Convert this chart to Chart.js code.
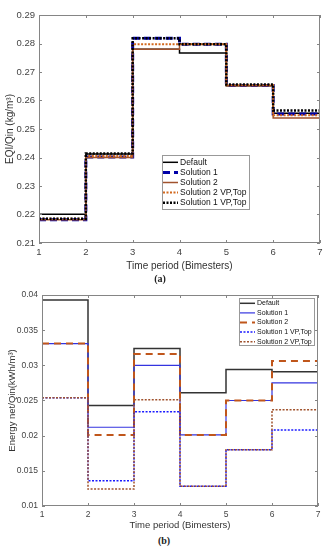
<!DOCTYPE html>
<html>
<head>
<meta charset="utf-8">
<script src="https://cdn.jsdelivr.net/npm/chart.js@4"></script>
<style>
  body { margin: 0; background: #fff; }
  #wrap { position: relative; width: 328px; height: 550px; overflow: hidden; }
  canvas { position: absolute; left: 0; }
  .cap { position: absolute; width: 40px; text-align: center; font: bold 10px "Liberation Serif", "Times New Roman", serif; color: #222; }
</style>
</head>
<body>
<div id="wrap">
  <canvas id="chartA" width="328" height="272" style="top:0"></canvas>
  <canvas id="chartB" width="328" height="251" style="top:280px"></canvas>
  <div class="cap" style="left:140px; top:273px">(a)</div>
  <div class="cap" style="left:144px; top:535px">(b)</div>
</div>
<script>
// time period boundaries (bimesters)
const periods = [1, 2, 3, 4, 5, 6, 7];

// (a) EQI/Qin (kg/m3), one value per bimester
const eqiLabels = ['Default', 'Solution 1', 'Solution 2', 'Solution 2 VP,Top', 'Solution 1 VP,Top'];
const eqiDefault = [0.2201, 0.2412, 0.2780, 0.2767, 0.2652, 0.2555];
const eqiSol1 = [0.2182, 0.2402, 0.2818, 0.2797, 0.2653, 0.2553];
const eqiSol2 = [0.2182, 0.2400, 0.2780, 0.2797, 0.2652, 0.2539];
const eqiSol2VP = [0.2185, 0.2405, 0.2797, 0.2797, 0.2654, 0.2548];
const eqiSol1VP = [0.2185, 0.2414, 0.2818, 0.2797, 0.2656, 0.2565];

// (b) Energy net/Qin (kWh/m3)
const enLabels = ['Default', 'Solution 1', 'Solution 2', 'Solution 1 VP,Top', 'Solution 2 VP,Top'];
const enDefault = [0.0393, 0.0243, 0.0324, 0.0261, 0.0294, 0.0291];
const enSol1 = [0.0331, 0.0212, 0.0300, 0.0201, 0.0250, 0.0275];
const enSol2 = [0.0331, 0.0201, 0.0316, 0.0201, 0.0250, 0.0306];
const enSol1VP = [0.0254, 0.0136, 0.0234, 0.0128, 0.0180, 0.0208];
const enSol2VP = [0.0254, 0.0124, 0.0251, 0.0128, 0.0180, 0.0237];

const FONT = '"Liberation Sans", Arial, sans-serif';

// step data: each value holds from its period start to the next one
function steps(vals) {
  return periods.map((p, i) => ({ x: p, y: vals[Math.min(i, vals.length - 1)] }));
}

// matlab style box with inward ticks
const frame = {
  id: 'frame',
  afterDatasetsDraw(chart) {
    const { ctx, chartArea: a, scales: { x, y } } = chart;
    ctx.save();
    ctx.strokeStyle = '#858585';
    ctx.lineWidth = 1;
    ctx.setLineDash([]);
    ctx.strokeRect(Math.round(a.left) + 0.5, Math.round(a.top) + 0.5, Math.round(a.width) - 1, Math.round(a.height) - 1);
    ctx.beginPath();
    x.ticks.forEach(t => {
      const px = Math.round(x.getPixelForValue(t.value)) + 0.5;
      ctx.moveTo(px, a.bottom); ctx.lineTo(px, a.bottom - 3);
      ctx.moveTo(px, a.top); ctx.lineTo(px, a.top + 3);
    });
    y.ticks.forEach(t => {
      const py = Math.round(y.getPixelForValue(t.value)) + 0.5;
      ctx.moveTo(a.left, py); ctx.lineTo(a.left + 3, py);
      ctx.moveTo(a.right, py); ctx.lineTo(a.right - 3, py);
    });
    ctx.stroke();
    ctx.restore();
  }
};

// legend box drawn inside the plot
const boxLegend = {
  id: 'boxLegend',
  afterDraw(chart, args, o) {
    const ctx = chart.ctx;
    ctx.save();
    ctx.fillStyle = '#fff';
    ctx.fillRect(o.left, o.top, o.width, o.height);
    ctx.strokeStyle = '#999';
    ctx.lineWidth = 1;
    ctx.strokeRect(o.left + 0.5, o.top + 0.5, o.width, o.height);
    ctx.font = o.font;
    ctx.textBaseline = 'middle';
    chart.data.datasets.forEach((ds, i) => {
      const yy = o.rowTop + i * o.rowGap;
      ctx.beginPath();
      ctx.setLineDash(ds.borderDash || []);
      ctx.lineWidth = ds.borderWidth;
      ctx.strokeStyle = ds.borderColor;
      ctx.moveTo(o.left + 1, yy);
      ctx.lineTo(o.left + 1 + o.sample, yy);
      ctx.stroke();
      ctx.setLineDash([]);
      ctx.fillStyle = '#111';
      ctx.fillText(ds.label, o.left + o.sample + 3, yy);
    });
    ctx.restore();
  }
};

function makeChart(id, sets, cfg) {
  new Chart(document.getElementById(id), {
    type: 'line',
    data: {
      datasets: sets.map((s, i) => ({
        label: s.label,
        data: steps(s.data),
        borderColor: s.color,
        borderWidth: s.width,
        borderDash: s.dash,
        stepped: true,
        pointRadius: 0,
        fill: false,
        order: sets.length - i
      }))
    },
    options: {
      responsive: false,
      animation: false,
      layout: { padding: cfg.padding },
      plugins: {
        legend: { display: false },
        tooltip: { enabled: false },
        boxLegend: cfg.legend
      },
      scales: {
        x: {
          type: 'linear', min: 1, max: 7,
          afterFit: s => { s.height = cfg.xHeight; },
          grid: { display: false, drawTicks: false },
          border: { display: false },
          ticks: { stepSize: 1, padding: 4, color: '#444', font: { family: FONT, size: cfg.tickSize } },
          title: { display: true, text: 'Time period (Bimesters)', padding: 0, color: '#333', font: { family: FONT, size: cfg.titleSize } }
        },
        y: {
          min: cfg.yMin, max: cfg.yMax,
          afterFit: s => { s.width = cfg.yWidth; },
          grid: { display: false, drawTicks: false },
          border: { display: false },
          ticks: { stepSize: cfg.yStep, padding: 4, color: '#444', font: { family: FONT, size: cfg.tickSize },
            callback: v => String(+v.toFixed(4)) },
          title: { display: true, text: cfg.yTitle, padding: { top: cfg.yTitlePad, bottom: 0 }, color: '#333', font: { family: FONT, size: cfg.titleSize } }
        }
      }
    },
    plugins: [frame, boxLegend]
  });
}

makeChart('chartA', [
  { label: eqiLabels[0], data: eqiDefault, color: '#000', width: 1.5, dash: [] },
  { label: eqiLabels[1], data: eqiSol1, color: '#0000a8', width: 3, dash: [7, 4] },
  { label: eqiLabels[2], data: eqiSol2, color: '#a0522d', width: 1.5, dash: [] },
  { label: eqiLabels[3], data: eqiSol2VP, color: '#d2691e', width: 2, dash: [2, 1.5] },
  { label: eqiLabels[4], data: eqiSol1VP, color: '#000', width: 2.5, dash: [2, 1.5] }
], {
  padding: { top: 15, right: 8, left: 3, bottom: 0 },
  xHeight: 29, yWidth: 36, tickSize: 9.5, titleSize: 10, yTitlePad: 1,
  yMin: 0.21, yMax: 0.29, yStep: 0.01, yTitle: 'EQI/Qin (kg/m³)',
  legend: { left: 162, top: 155, width: 87, height: 54, rowTop: 162.3, rowGap: 10.1, sample: 15, font: '8.5px ' + FONT }
});

makeChart('chartB', [
  { label: enLabels[0], data: enDefault, color: '#333', width: 1.5, dash: [] },
  { label: enLabels[1], data: enSol1, color: '#3434e0', width: 1.2, dash: [] },
  { label: enLabels[2], data: enSol2, color: '#c0561b', width: 2, dash: [7, 5] },
  { label: enLabels[3], data: enSol1VP, color: '#1a1aff', width: 1.5, dash: [2, 1.5] },
  { label: enLabels[4], data: enSol2VP, color: '#a0522d', width: 1.5, dash: [2, 1.5] }
], {
  padding: { top: 15, right: 10, left: 3, bottom: 0 },
  xHeight: 25, yWidth: 39, tickSize: 8.5, titleSize: 9.5, yTitlePad: 4,
  yMin: 0.01, yMax: 0.04, yStep: 0.005, yTitle: 'Energy net/Qin(kWh/m³)',
  legend: { left: 239, top: 18, width: 75, height: 47, rowTop: 23.3, rowGap: 9.6, sample: 15, font: '7px ' + FONT }
});
</script>
</body>
</html>
